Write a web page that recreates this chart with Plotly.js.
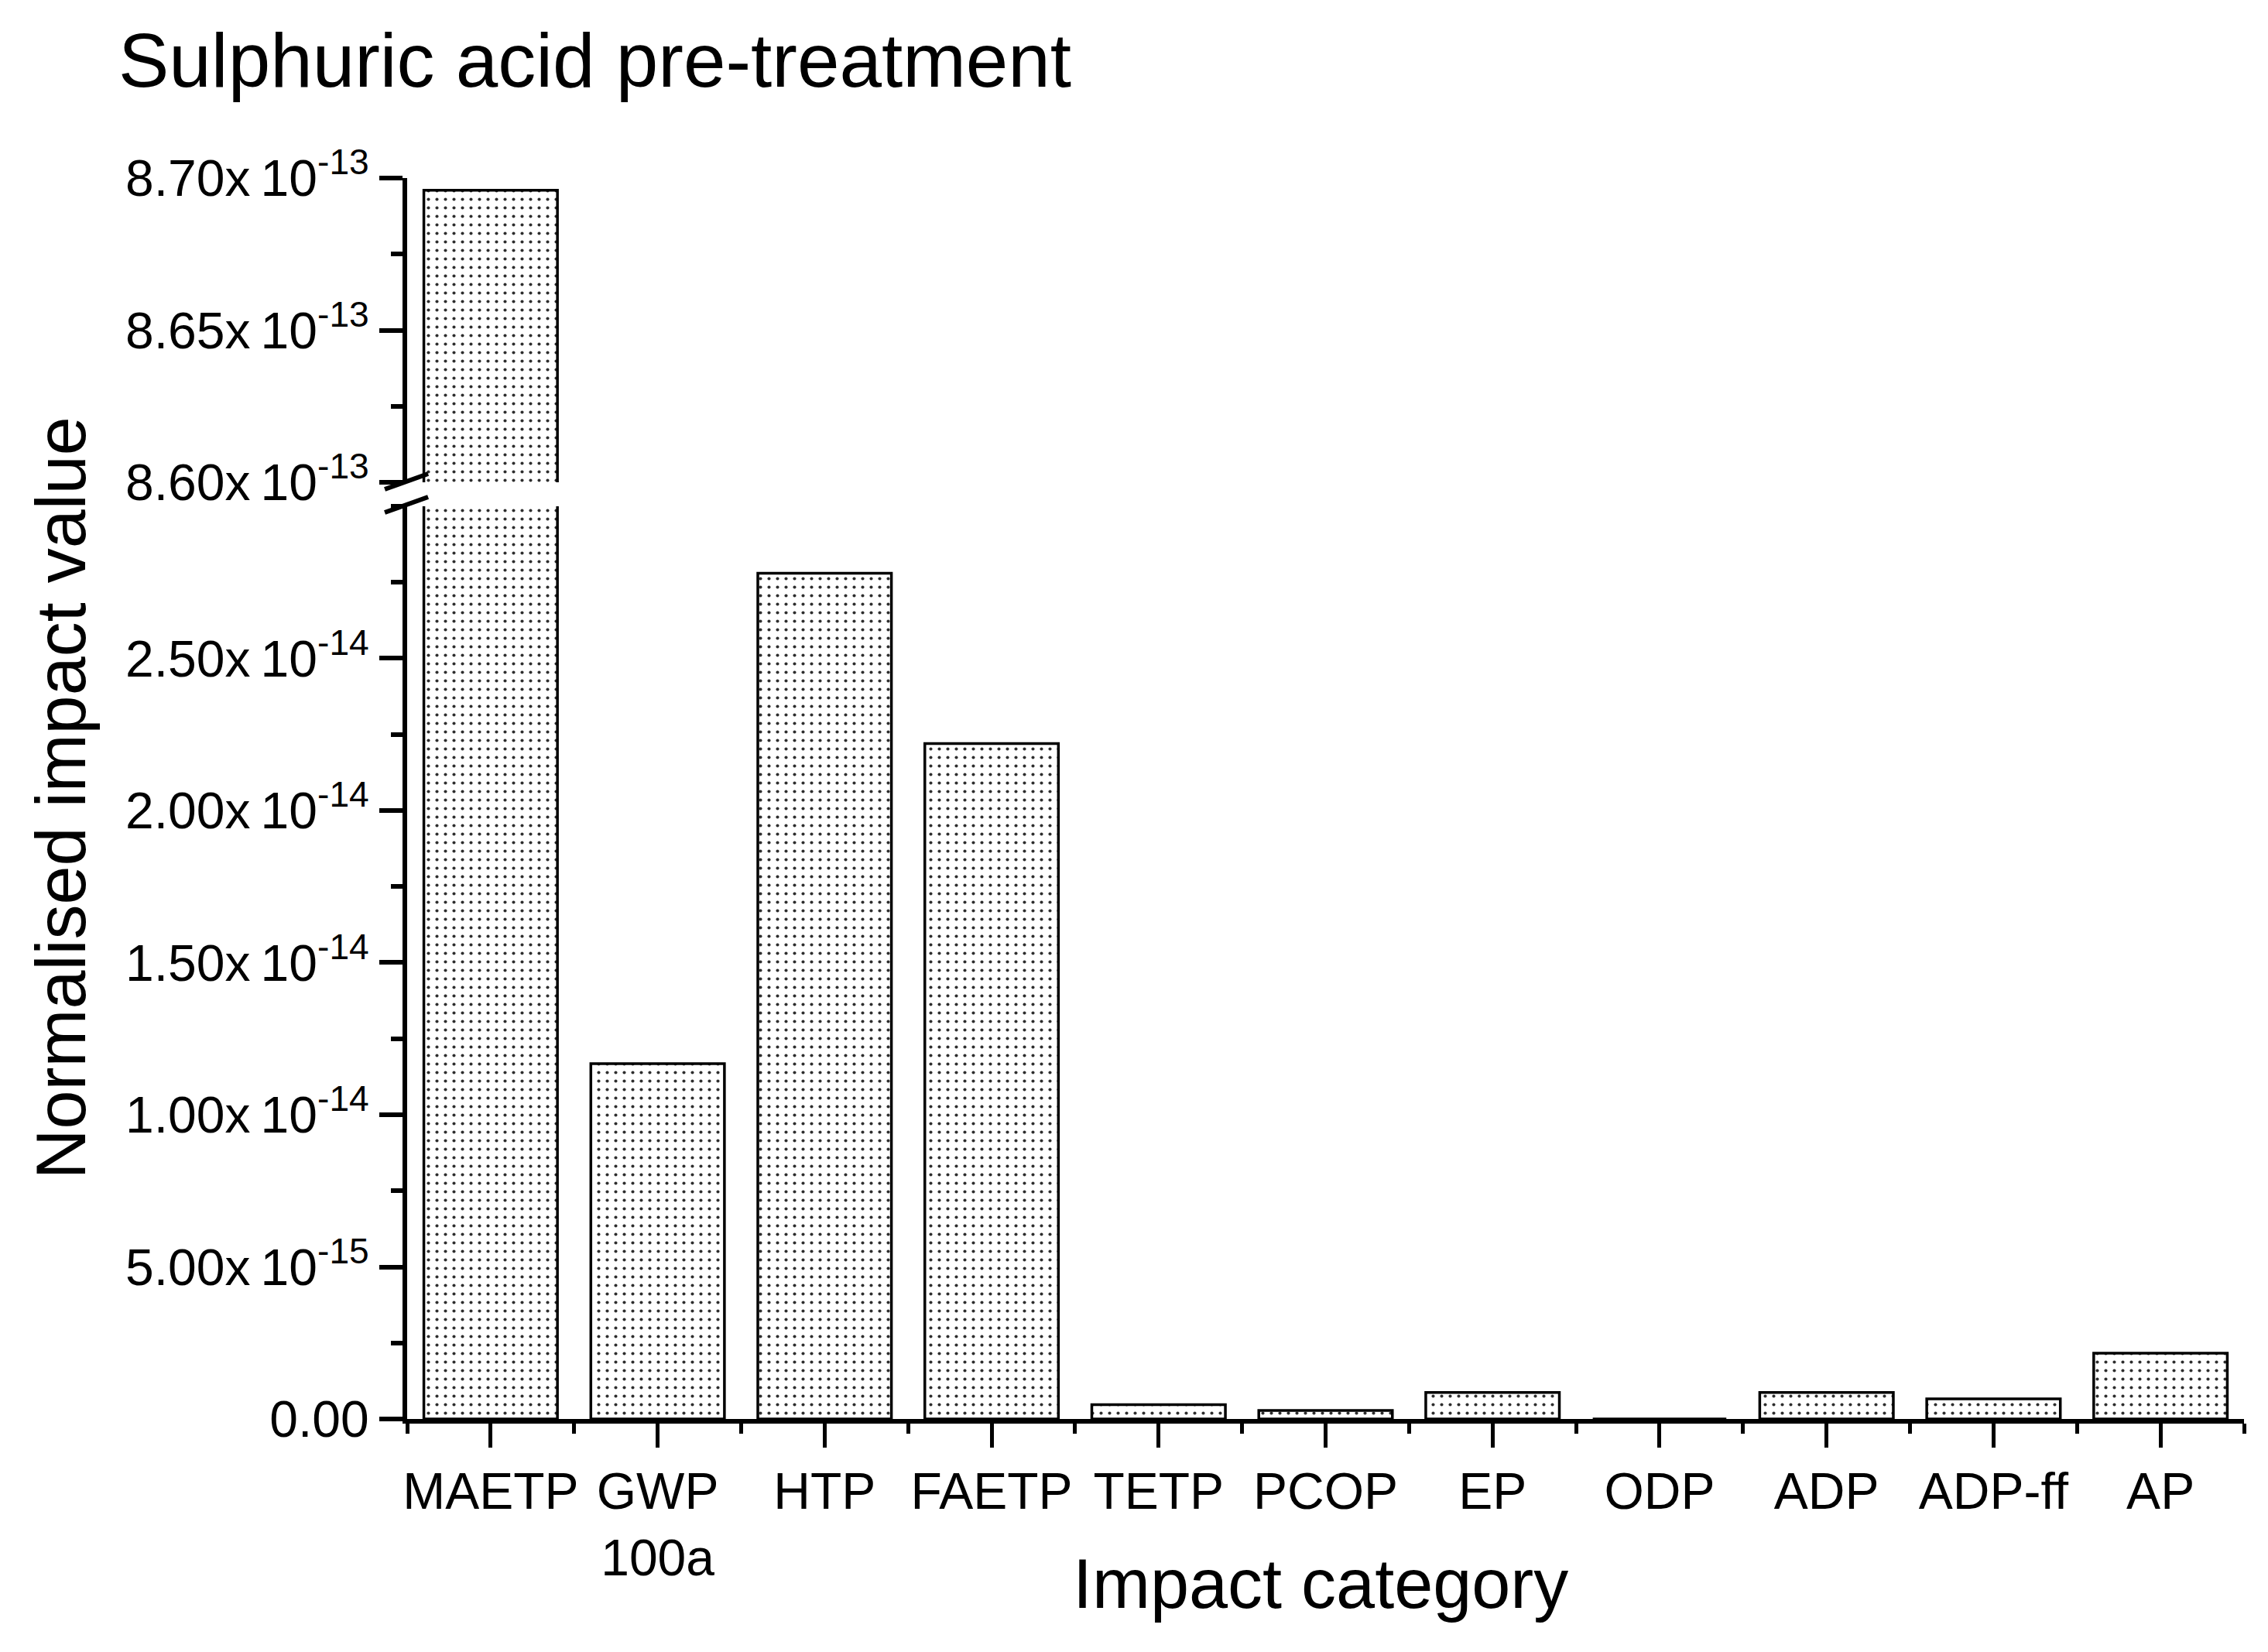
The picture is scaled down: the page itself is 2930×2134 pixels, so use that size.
<!DOCTYPE html>
<html><head><meta charset="utf-8">
<script src="https://cdn.plot.ly/plotly-3.0.1.min.js"></script>
<style>html,body{margin:0;padding:0;background:#fff}</style>
</head><body><div id="chart" style="width:2930px;height:2134px"></div>
<script>
// ---- data ----
const categories = ['MAETP', 'GWP<br>100a', 'HTP', 'FAETP', 'TETP', 'PCOP', 'EP', 'ODP', 'ADP', 'ADP-ff', 'AP'];
const impactValues = [8.696e-13, 1.168e-14, 2.78e-14, 2.22e-14, 4.7e-16, 2.8e-16, 8.7e-16, 0, 8.7e-16, 6.6e-16, 2.16e-15];
const lowerTickVals = [0, 5e-15, 1e-14, 1.5e-14, 2e-14, 2.5e-14];
const lowerTickText = ['0.00', '5.00x\u200910<sup>-15</sup>', '1.00x\u200910<sup>-14</sup>', '1.50x\u200910<sup>-14</sup>', '2.00x\u200910<sup>-14</sup>', '2.50x\u200910<sup>-14</sup>'];
const upperTickVals = [8.60e-13, 8.65e-13, 8.70e-13];
const upperTickText = ['8.60x\u200910<sup>-13</sup>', '8.65x\u200910<sup>-13</sup>', '8.70x\u200910<sup>-13</sup>'];
const lowerRange = [0, 3.0e-14];
const upperRange = [8.60e-13, 8.70e-13];
const titleText = 'Sulphuric acid pre-treatment';
const xTitle = 'Impact category';
const yTitle = 'Normalised impact value';

// ---- styling ----
const FONT = 'Liberation Sans, Arial, sans-serif';
const positions = categories.map((c, i) => i);
const barStyle = {
  color: 'white',
  line: {color: 'black', width: 3.5},
  pattern: {shape: '.', fgcolor: '#2e2e2e', bgcolor: 'white', size: 11, solidity: 0.11, fillmode: 'replace'}
};
const traces = [
  {type: 'bar', x: positions, y: impactValues, width: 0.8, marker: barStyle, xaxis: 'x', yaxis: 'y', showlegend: false, hoverinfo: 'skip'},
  {type: 'bar', x: positions, y: impactValues, width: 0.8, marker: barStyle, xaxis: 'x', yaxis: 'y2', showlegend: false, hoverinfo: 'skip'}
];
const yCommon = {
  showline: true, linecolor: 'black', linewidth: 6,
  ticks: 'outside', ticklen: 30, tickwidth: 6, tickcolor: 'black',
  showgrid: false, zeroline: false, anchor: 'x', tickmode: 'array',
  tickfont: {family: FONT, size: 66, color: 'black'},
  minor: {ticks: 'outside', ticklen: 15, tickwidth: 6, tickcolor: 'black', dtick: 2.5e-15, tick0: 0, showgrid: false}
};
const layout = {
  width: 2930, height: 2134,
  paper_bgcolor: 'white', plot_bgcolor: 'white',
  margin: {l: 526, r: 31, t: 230, b: 301},
  font: {family: FONT, color: 'black'},
  bargap: 0.2,
  title: {text: titleText, font: {family: FONT, size: 98, color: 'black'}, x: 153 / 2930, xref: 'container', xanchor: 'left', y: 1 - 78 / 2134, yref: 'container', yanchor: 'middle'},
  xaxis: {
    range: [-0.5, 10.5], tickmode: 'array', tickvals: positions, ticktext: categories,
    showline: true, linecolor: 'black', linewidth: 6, mirror: false,
    ticks: 'outside', ticklen: 31, tickwidth: 5, tickcolor: 'black',
    showgrid: false, zeroline: false, fixedrange: true,
    tickfont: {family: FONT, size: 66, color: 'black'},
    minor: {ticks: 'outside', ticklen: 13, tickwidth: 5, tickcolor: 'black', tickmode: 'linear', tick0: 0.5, dtick: 1, showgrid: false}
  },
  yaxis: Object.assign({}, yCommon, {domain: [0, 0.7355], range: lowerRange, tickvals: lowerTickVals, ticktext: lowerTickText}),
  yaxis2: Object.assign({}, yCommon, {domain: [0.7548, 1], range: upperRange, tickvals: upperTickVals, ticktext: upperTickText}),
  annotations: [
    {
      text: yTitle, textangle: -90, xref: 'paper', yref: 'paper', x: (78 - 526) / 2373, y: 0.5,
      xanchor: 'center', yanchor: 'middle', showarrow: false,
      font: {family: FONT, size: 90, color: 'black'}
    },
    {
      text: xTitle, xref: 'paper', yref: 'paper', x: (1706 - 526) / 2373, y: (1833 - 2046) / 1603,
      xanchor: 'center', yanchor: 'middle', showarrow: false,
      font: {family: FONT, size: 90, color: 'black'}
    }
  ],
  shapes: [
    {type: 'line', xref: 'paper', yref: 'paper', x0: -0.0122, x1: 0.0114, y0: 0.7492, y1: 0.7617, line: {color: 'black', width: 6}},
    {type: 'line', xref: 'paper', yref: 'paper', x0: -0.0122, x1: 0.0114, y0: 0.7305, y1: 0.7430, line: {color: 'black', width: 6}}
  ]
};
Plotly.newPlot('chart', traces, layout, {staticPlot: true, displayModeBar: false});
</script>
</body></html>
